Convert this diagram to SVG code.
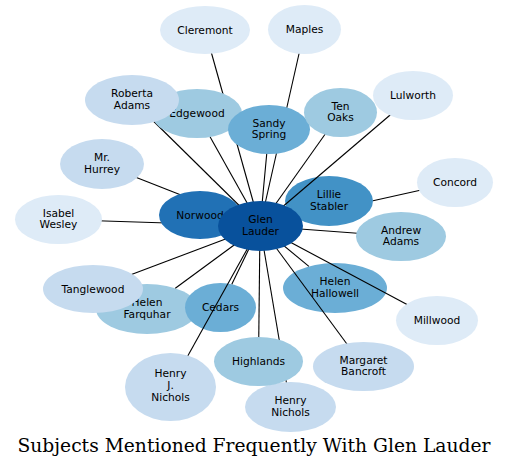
<svg xmlns="http://www.w3.org/2000/svg" width="508" height="468" viewBox="0 0 508 468">
<style>
.n text{font-family:"DejaVu Sans",sans-serif;font-size:10.67px;fill:#000;text-anchor:middle}
.c0{fill:#deebf7}.c1{fill:#c6dbef}.c2{fill:#9ecae1}.c3{fill:#6baed6}.c4{fill:#4292c6}.c5{fill:#2171b5}.c6{fill:#08519c}
#edges line{stroke:#000;stroke-width:1.1}
.title{font-family:"DejaVu Serif",serif;font-size:18.7px;fill:#000;text-anchor:middle}
</style>
<rect width="508" height="468" fill="#fff"/>
<g class="n">
<g id="helen-farquhar"><ellipse class="c2" cx="147" cy="309" rx="51" ry="25"/><text x="147" y="306">Helen</text><text x="147" y="317.7">Farquhar</text></g>
<g id="cedars"><ellipse class="c3" cx="220.5" cy="307.5" rx="35.5" ry="24.5"/><text x="220.5" y="311">Cedars</text></g>
<g id="helen-hallowell"><ellipse class="c3" cx="335" cy="288" rx="52" ry="25"/><text x="335" y="285">Helen</text><text x="335" y="296.7">Hallowell</text></g>
<g id="lillie-stabler"><ellipse class="c4" cx="329" cy="201" rx="44" ry="25"/><text x="329" y="198">Lillie</text><text x="329" y="209.7">Stabler</text></g>
</g>
<g id="edges">
<line x1="260" y1="226" x2="205" y2="30"/>
<line x1="260" y1="226" x2="304.5" y2="29.5"/>
<line x1="260" y1="226" x2="132" y2="100"/>
<line x1="260" y1="226" x2="197" y2="113.5"/>
<line x1="260" y1="226" x2="269" y2="129.5"/>
<line x1="260" y1="226" x2="340.5" y2="112.5"/>
<line x1="260" y1="226" x2="413" y2="95.5"/>
<line x1="260" y1="226" x2="102" y2="164"/>
<line x1="260" y1="226" x2="58.5" y2="219.5"/>
<line x1="260" y1="226" x2="200" y2="215"/>
<line x1="260" y1="226" x2="291.9" y2="214.4"/>
<line x1="373" y1="200.8" x2="455" y2="182.5"/>
<line x1="260" y1="226" x2="401" y2="236.5"/>
<line x1="260" y1="226" x2="93" y2="289"/>
<line x1="260" y1="226" x2="175.3" y2="288.2"/>
<line x1="260" y1="226" x2="231.8" y2="284.3"/>
<line x1="260" y1="226" x2="308.9" y2="266.4"/>
<line x1="260" y1="226" x2="437" y2="320.5"/>
<line x1="260" y1="226" x2="170.5" y2="387"/>
<line x1="260" y1="226" x2="258.5" y2="361.5"/>
<line x1="260" y1="226" x2="290.5" y2="407"/>
<line x1="260" y1="226" x2="363.5" y2="366.5"/>
</g>
<g class="n">
<g id="cleremont"><ellipse class="c0" cx="205" cy="30" rx="45" ry="24"/><text x="205" y="33.5">Cleremont</text></g>
<g id="maples"><ellipse class="c0" cx="304.5" cy="29.5" rx="36.5" ry="24.5"/><text x="304.5" y="33">Maples</text></g>
<g id="edgewood"><ellipse class="c2" cx="197" cy="113.5" rx="45" ry="24.5"/><text x="197" y="117">Edgewood</text></g>
<g id="roberta-adams"><ellipse class="c1" cx="132" cy="100" rx="47" ry="25"/><text x="132" y="97">Roberta</text><text x="132" y="108.7">Adams</text></g>
<g id="sandy-spring"><ellipse class="c3" cx="269" cy="129.5" rx="41" ry="24.5"/><text x="269" y="126.5">Sandy</text><text x="269" y="138.2">Spring</text></g>
<g id="ten-oaks"><ellipse class="c2" cx="340.5" cy="112.5" rx="36.5" ry="24.5"/><text x="340.5" y="109.5">Ten</text><text x="340.5" y="121.2">Oaks</text></g>
<g id="lulworth"><ellipse class="c0" cx="413" cy="95.5" rx="40" ry="24.5"/><text x="413" y="99">Lulworth</text></g>
<g id="mr-hurrey"><ellipse class="c1" cx="102" cy="164" rx="42" ry="25"/><text x="102" y="161">Mr.</text><text x="102" y="172.7">Hurrey</text></g>
<g id="isabel-wesley"><ellipse class="c0" cx="58.5" cy="219.5" rx="43.5" ry="24.5"/><text x="58.5" y="216.5">Isabel</text><text x="58.5" y="228.2">Wesley</text></g>
<g id="concord"><ellipse class="c0" cx="455" cy="182.5" rx="38" ry="24.5"/><text x="455" y="186">Concord</text></g>
<g id="andrew-adams"><ellipse class="c2" cx="401" cy="236.5" rx="45" ry="24.5"/><text x="401" y="233.5">Andrew</text><text x="401" y="245.2">Adams</text></g>
<g id="norwood"><ellipse class="c5" cx="200" cy="215" rx="41" ry="24"/><text x="200" y="218.5">Norwood</text></g>
<g id="glen-lauder"><ellipse class="c6" cx="260.5" cy="226" rx="42.5" ry="25"/><text x="260.5" y="223">Glen</text><text x="260.5" y="234.7">Lauder</text></g>
<g id="tanglewood"><ellipse class="c1" cx="93" cy="289" rx="50" ry="24"/><text x="93" y="292.5">Tanglewood</text></g>
<g id="millwood"><ellipse class="c0" cx="437" cy="320.5" rx="41" ry="24.5"/><text x="437" y="324">Millwood</text></g>
<g id="margaret-bancroft"><ellipse class="c1" cx="363.5" cy="366.5" rx="50.5" ry="24.5"/><text x="363.5" y="363.5">Margaret</text><text x="363.5" y="375.2">Bancroft</text></g>
<g id="henry-j-nichols"><ellipse class="c1" cx="170.5" cy="387" rx="45.5" ry="34"/><text x="170.5" y="377.3">Henry</text><text x="170.5" y="389">J.</text><text x="170.5" y="400.7">Nichols</text></g>
<g id="henry-nichols"><ellipse class="c1" cx="290.5" cy="407" rx="45.5" ry="25"/><text x="290.5" y="404">Henry</text><text x="290.5" y="415.7">Nichols</text></g>
<g id="highlands"><ellipse class="c2" cx="258.5" cy="361.5" rx="44.5" ry="24.5"/><text x="258.5" y="365">Highlands</text></g>
</g>
<text class="title" x="254" y="452">Subjects Mentioned Frequently With Glen Lauder</text>
</svg>
